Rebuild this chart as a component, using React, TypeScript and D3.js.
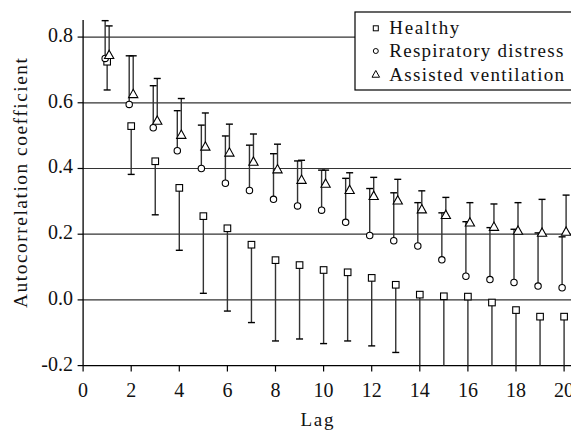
import React from "react";
import * as d3 from "d3";

const lags = [1, 2, 3, 4, 5, 6, 7, 8, 9, 10, 11, 12, 13, 14, 15, 16, 17, 18, 19, 20];
const healthy = [0.725, 0.529, 0.422, 0.341, 0.255, 0.218, 0.168, 0.121, 0.106, 0.091, 0.084, 0.067, 0.046, 0.016, 0.011, 0.01, -0.008, -0.031, -0.051, -0.051];
const healthyLower = [0.639, 0.382, 0.259, 0.151, 0.02, -0.034, -0.069, -0.125, -0.119, -0.133, -0.125, -0.14, -0.16, -0.22, -0.23, -0.23, -0.25, -0.26, -0.27, -0.27];
const resp = [0.735, 0.595, 0.524, 0.454, 0.4, 0.355, 0.333, 0.306, 0.286, 0.273, 0.236, 0.196, 0.18, 0.164, 0.122, 0.072, 0.062, 0.053, 0.042, 0.037];
const respUpper = [0.85, 0.743, 0.652, 0.576, 0.532, 0.499, 0.471, 0.445, 0.423, 0.395, 0.37, 0.339, 0.326, 0.296, 0.265, 0.238, 0.22, 0.215, 0.204, 0.192];
const vent = [0.745, 0.626, 0.545, 0.502, 0.466, 0.448, 0.42, 0.397, 0.365, 0.353, 0.334, 0.316, 0.302, 0.275, 0.258, 0.235, 0.222, 0.21, 0.204, 0.207];
const ventUpper = [0.834, 0.743, 0.674, 0.613, 0.569, 0.535, 0.505, 0.474, 0.425, 0.395, 0.387, 0.373, 0.367, 0.332, 0.312, 0.296, 0.292, 0.296, 0.306, 0.319];
const yTicks = [-0.2, 0.0, 0.2, 0.4, 0.6, 0.8];
const xTicks = [0, 2, 4, 6, 8, 10, 12, 14, 16, 18, 20];
const legendLabels = ["Healthy", "Respiratory distress", "Assisted ventilation"];

const FONT = "Liberation Serif, Times New Roman, Times, serif";

export default function App() {
  const W = 571, H = 431;
  const x = d3.scaleLinear().domain([0, 20]).range([83.1, 564.1]);
  const y = d3.scaleLinear().domain([-0.2, 0.852]).range([365.6, 20]);
  const yMin = y(-0.2);
  const clipY = (v: number) => Math.min(y(v), yMin);
  const fmt = (v: number) => (v < 0 ? "-" : "") + Math.abs(v).toFixed(1);
  const capW = 3.5;
  const stem = "#333";
  const offC = -2, offT = 2;

  const tri = (cx: number, cy: number, s: number) =>
    `M${cx},${cy - s * 0.62} L${cx + s * 0.58},${cy + s * 0.42} L${cx - s * 0.58},${cy + s * 0.42} Z`;

  return (
    <svg width={W} height={H} style={{ position: "absolute", left: 0, top: 0, background: "#fff" }}>
      {yTicks.filter((t) => t > -0.2).map((t) => (
        <line key={"g" + t} x1={x(0)} x2={575} y1={y(t)} y2={y(t)} stroke="#333" strokeWidth={1.2} />
      ))}
      <line x1={x(0)} x2={x(0)} y1={y(0.852)} y2={yMin} stroke="#000" strokeWidth={1.3} />
      <line x1={x(0)} x2={575} y1={yMin} y2={yMin} stroke="#000" strokeWidth={1.3} />
      {yTicks.map((t) => (
        <g key={"yt" + t}>
          <line x1={x(0) - 5.5} x2={x(0)} y1={y(t)} y2={y(t)} stroke="#000" strokeWidth={1.2} />
          <text x={73} y={y(t) + 5} textAnchor="end" fontFamily={FONT} fontSize={20} fill="#111">{fmt(t)}</text>
        </g>
      ))}
      {xTicks.map((t) => (
        <g key={"xt" + t}>
          <line x1={x(t)} x2={x(t)} y1={yMin} y2={yMin + 6} stroke="#000" strokeWidth={1.2} />
          <text x={x(t)} y={397} textAnchor="middle" fontFamily={FONT} fontSize={20} fill="#111">{t}</text>
        </g>
      ))}
      <text x={317} y={426} textAnchor="middle" fontFamily={FONT} fontSize={19} textLength={33} lengthAdjust="spacing" fill="#111">Lag</text>
      <text transform={`translate(27,183) rotate(-90)`} textAnchor="middle" fontFamily={FONT} fontSize={19.5} textLength={250} lengthAdjust="spacing" fill="#111">Autocorrelation coefficient</text>

      {lags.map((l, i) => {
        const xs = x(l), xc = x(l) + offC, xt = x(l) + offT;
        const hl = healthyLower[i];
        return (
          <g key={"e" + l} stroke={stem} strokeWidth={1.4}>
            <line x1={xs} x2={xs} y1={y(healthy[i])} y2={clipY(hl)} />
            {hl > -0.2 && <line x1={xs - capW} x2={xs + capW} y1={y(hl)} y2={y(hl)} stroke="#000" />}
            <line x1={xc} x2={xc} y1={y(resp[i])} y2={y(respUpper[i])} />
            <line x1={xc - capW} x2={xc + capW} y1={y(respUpper[i])} y2={y(respUpper[i])} stroke="#000" />
            <line x1={xt} x2={xt} y1={y(vent[i])} y2={y(ventUpper[i])} />
            <line x1={xt - capW} x2={xt + capW} y1={y(ventUpper[i])} y2={y(ventUpper[i])} stroke="#000" />
          </g>
        );
      })}
      {lags.map((l, i) => (
        <g key={"m" + l} fill="#fff" stroke="#000" strokeWidth={1.1}>
          <rect x={x(l) - 3.3} y={y(healthy[i]) - 3.3} width={6.6} height={6.6} />
          <circle cx={x(l) + offC} cy={y(resp[i])} r={3.2} />
          <path d={tri(x(l) + offT, y(vent[i]), 8)} />
        </g>
      ))}

      <rect x={355} y={12} width={220} height={78} fill="#fff" stroke="#000" strokeWidth={1.2} />
      <g fill="#fff" stroke="#000" strokeWidth={1}>
        <rect x={373.3} y={25.8} width={5} height={5} />
        <circle cx={375.8} cy={51} r={2.5} />
        <path d={tri(375.8, 74.5, 6.5)} />
      </g>
      {legendLabels.map((s, i) => (
        <text key={s} x={389.3} y={[34.3, 57, 81][i]} fontFamily={FONT} fontSize={19}
          textLength={[70, 174, 174.7][i]} lengthAdjust="spacing" fill="#111">{s}</text>
      ))}
    </svg>
  );
}
